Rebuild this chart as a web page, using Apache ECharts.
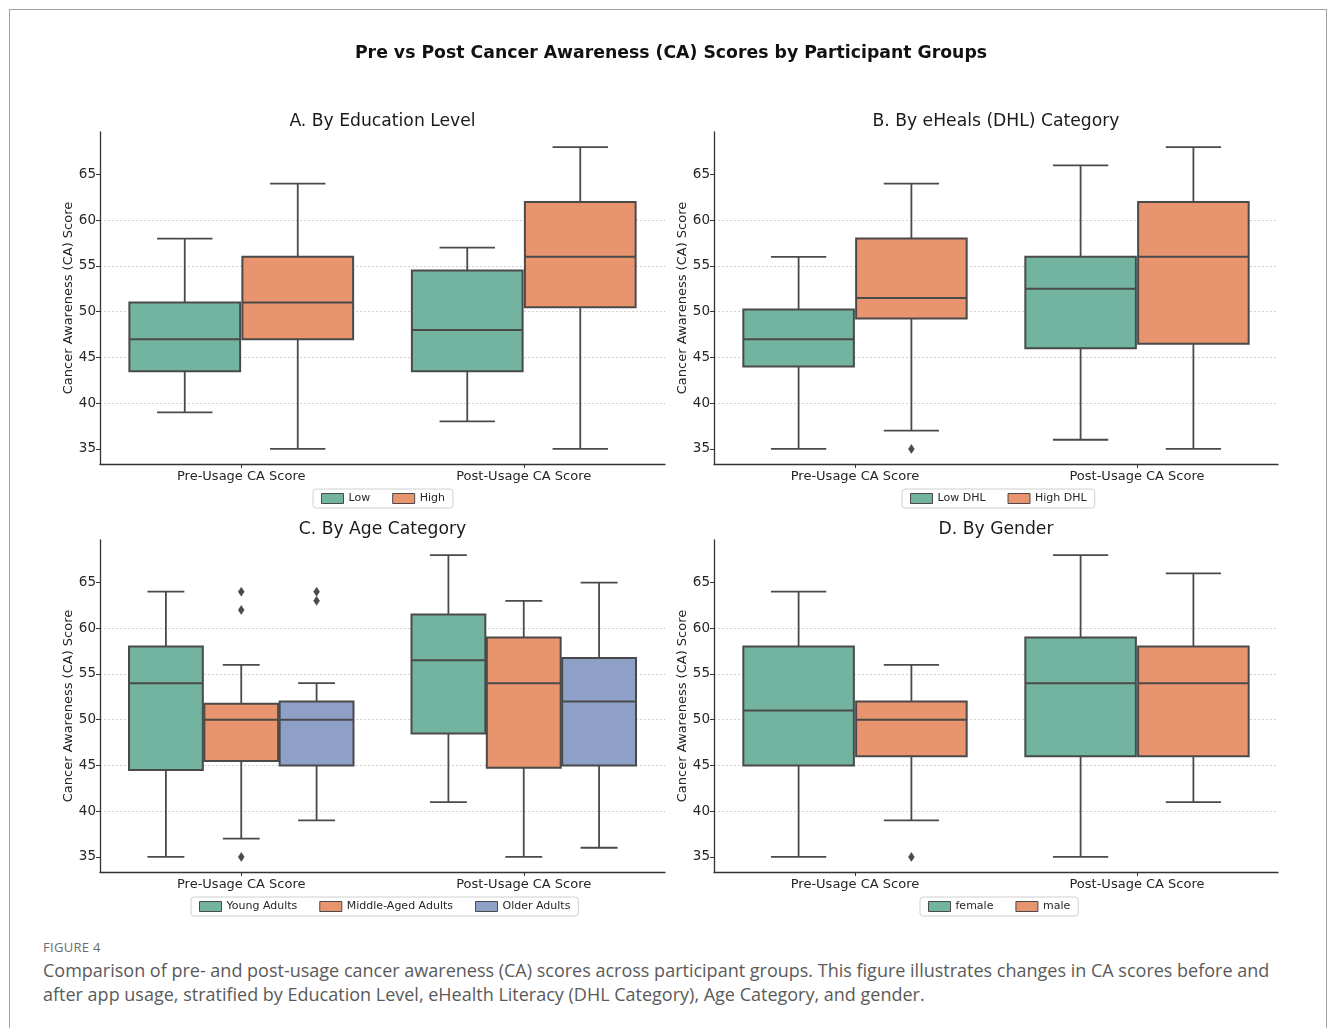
<!DOCTYPE html>
<html>
<head>
<meta charset="utf-8">
<title>Pre vs Post Cancer Awareness (CA) Scores by Participant Groups</title>
<script src="https://cdn.jsdelivr.net/npm/echarts@6.0.0/dist/echarts.min.js"></script>
<style>
  html, body { margin: 0; padding: 0; background: #fff; }
  body { width: 1334px; height: 1028px; position: relative; overflow: hidden; }
  .frame { position: absolute; left: 9px; top: 9px; width: 1316px; height: 1040px; border: 1.5px solid #a3a3a3; }
  #chart { position: absolute; left: 0; top: 0; width: 1334px; height: 925px; }
  .fig-label { position: absolute; left: 43px; top: 938px; font: 13px 'Open Sans', sans-serif; color: #6b6b6b; letter-spacing: 0.3px; }
  .caption { position: absolute; left: 43px; top: 958px; width: 1270px; font: 18px/24px 'Open Sans', sans-serif; color: #5a5a5a; }
</style>
</head>
<body>
<div class="frame"></div>
<div id="chart"></div>
<div class="fig-label">FIGURE 4</div>
<div class="caption">Comparison of pre- and post-usage cancer awareness (CA) scores across participant groups. This figure illustrates changes in CA scores before and<br>after app usage, stratified by Education Level, eHealth Literacy (DHL Category), Age Category, and gender.</div>
<script>
// x categories
const categories = ['Pre-Usage CA Score', 'Post-Usage CA Score'];
const yTicks = [35, 40, 45, 50, 55, 60, 65];

// box stats per group: [min, Q1, median, Q3, max] for Pre, then Post
const eduLow = [[39, 43.5, 47, 51, 58], [38, 43.5, 48, 54.5, 57]];
const eduHigh = [[35, 47, 51, 56, 64], [35, 50.5, 56, 62, 68]];

const dhlLow = [[35, 44, 47, 50.25, 56], [36, 46, 52.5, 56, 66]];
const dhlHigh = [[37, 49.25, 51.5, 58, 64], [35, 46.5, 56, 62, 68]];

const ageYoung = [[35, 44.5, 54, 58, 64], [41, 48.5, 56.5, 61.5, 68]];
const ageMiddle = [[37, 45.5, 50, 51.75, 56], [35, 44.75, 54, 59, 63]];
const ageOlder = [[39, 45, 50, 52, 54], [36, 45, 52, 56.75, 65]];

const genderFemale = [[35, 45, 51, 58, 64], [35, 46, 54, 59, 68]];
const genderMale = [[39, 46, 50, 52, 56], [41, 46, 54, 58, 66]];

// outliers: [category index, value]
const dhlHighOutliers = [[0, 35]];
const ageMiddleOutliers = [[0, 64], [0, 62], [0, 35]];
const ageOlderOutliers = [[0, 64], [0, 63]];
const genderMaleOutliers = [[0, 35]];

const yMin = 33.35;
const yMax = 69.65;

const panels = [
  { title: 'A. By Education Level', names: ['Low', 'High'], boxes: [eduLow, eduHigh], outliers: [[], []] },
  { title: 'B. By eHeals (DHL) Category', names: ['Low DHL', 'High DHL'], boxes: [dhlLow, dhlHigh], outliers: [[], dhlHighOutliers] },
  { title: 'C. By Age Category', names: ['Young Adults', 'Middle-Aged Adults', 'Older Adults'], boxes: [ageYoung, ageMiddle, ageOlder], outliers: [[], ageMiddleOutliers, ageOlderOutliers] },
  { title: 'D. By Gender', names: ['female', 'male'], boxes: [genderFemale, genderMale], outliers: [[], genderMaleOutliers] }
];

// layout of the four subplots
const layout = [
  { left: 100, top: 132, width: 565, legendLeft: 313 },
  { left: 714, top: 132, width: 564, legendLeft: 902 },
  { left: 100, top: 540, width: 565, legendLeft: 191 },
  { left: 714, top: 540, width: 564, legendLeft: 920 }
];
const plotHeight = 332;

const font = 'DejaVu Sans';
const edgeColor = '#4a4a4a';
const textColor = '#262626';
const hueColors = ['#72b4a0', '#e8956f', '#8fa0c6'];

// seaborn style: 0.8 of the band shared by the hues, each box 98% of its slot
function hueCenter(api, cat, hue, nHue) {
  const band = api.size([1, 0])[0];
  const slot = band * 0.8 / nHue;
  return { cx: api.coord([cat, yMin])[0] + (hue - (nHue - 1) / 2) * slot, w: slot * 0.98 };
}

function boxRenderer(hue, nHue) {
  return function (params, api) {
    const cat = api.value(0);
    const pos = hueCenter(api, cat, hue, nHue);
    const cx = pos.cx, w = pos.w;
    const y = v => api.coord([cat, v])[1];
    const lo = y(api.value(1)), q1 = y(api.value(2)), med = y(api.value(3)), q3 = y(api.value(4)), hi = y(api.value(5));
    const ls = { stroke: edgeColor, lineWidth: 1.8 };
    return {
      type: 'group',
      children: [
        { type: 'line', shape: { x1: cx, y1: q3, x2: cx, y2: hi }, style: ls },
        { type: 'line', shape: { x1: cx, y1: q1, x2: cx, y2: lo }, style: ls },
        { type: 'line', shape: { x1: cx - w / 4, y1: hi, x2: cx + w / 4, y2: hi }, style: ls },
        { type: 'line', shape: { x1: cx - w / 4, y1: lo, x2: cx + w / 4, y2: lo }, style: ls },
        { type: 'rect', shape: { x: cx - w / 2, y: q3, width: w, height: q1 - q3 }, style: { fill: api.visual('color'), stroke: edgeColor, lineWidth: 2 } },
        { type: 'line', shape: { x1: cx - w / 2, y1: med, x2: cx + w / 2, y2: med }, style: { stroke: edgeColor, lineWidth: 2 } }
      ]
    };
  };
}

function outlierRenderer(hue, nHue) {
  return function (params, api) {
    const cat = api.value(0);
    const cx = hueCenter(api, cat, hue, nHue).cx;
    const cy = api.coord([cat, api.value(1)])[1];
    return {
      type: 'polygon',
      shape: { points: [[cx, cy - 4.5], [cx + 3, cy], [cx, cy + 4.5], [cx - 3, cy]] },
      style: { fill: edgeColor, stroke: edgeColor, lineWidth: 0.5 }
    };
  };
}

const option = {
  animation: false,
  backgroundColor: 'transparent',
  title: [{
    text: 'Pre vs Post Cancer Awareness (CA) Scores by Participant Groups',
    left: 671, top: 45, textAlign: 'center', padding: 0,
    textStyle: { fontFamily: font, fontSize: 17.3, fontWeight: 'bold', color: '#111' }
  }],
  grid: [], xAxis: [], yAxis: [], legend: [], series: []
};

panels.forEach((p, i) => {
  const l = layout[i];
  const n = p.names.length;
  option.title.push({
    text: p.title, left: l.left + l.width / 2, top: l.top - 19, textAlign: 'center', padding: 0,
    textStyle: { fontFamily: font, fontSize: 17.2, fontWeight: 'normal', color: '#1a1a1a' }
  });
  option.grid.push({ left: l.left, top: l.top, width: l.width, height: plotHeight, containLabel: false, outerBoundsMode: 'none' });
  option.xAxis.push({
    gridIndex: i, type: 'category', data: categories, boundaryGap: true,
    axisLine: { show: true, lineStyle: { color: '#333', width: 1.3 } },
    axisTick: { show: true, alignWithLabel: true, length: 4, lineStyle: { color: '#333', width: 1 } },
    axisLabel: { margin: 6, fontFamily: font, fontSize: 13, color: textColor },
    splitLine: { show: false }
  });
  option.yAxis.push({
    gridIndex: i, type: 'value', min: yMin, max: yMax, splitNumber: 8,
    name: 'Cancer Awareness (CA) Score', nameLocation: 'middle', nameGap: 24, nameRotate: 90,
    nameTextStyle: { fontFamily: font, fontSize: 13, color: textColor },
    axisLine: { show: true, lineStyle: { color: '#333', width: 1.3 } },
    axisTick: { show: true, length: 4, customValues: yTicks, lineStyle: { color: '#333', width: 1 } },
    axisLabel: {
      margin: 4, fontFamily: font, fontSize: 13.5, color: textColor, customValues: yTicks,
      formatter: v => (Math.abs(v % 5) < 1e-6 ? String(v) : '')
    },
    splitLine: { show: true, showMinLine: false, showMaxLine: false, lineStyle: { type: [2, 2], color: '#c4c4c4', width: 0.8 } }
  });
  option.legend.push({
    data: p.names, left: l.legendLeft, top: l.top + 357, orient: 'horizontal',
    icon: 'rect', itemWidth: 22, itemHeight: 10, itemGap: 22, padding: [4, 8],
    backgroundColor: '#fff', borderColor: '#d0d0d0', borderWidth: 1, borderRadius: 3,
    itemStyle: { borderColor: edgeColor, borderWidth: 1 },
    textStyle: { fontFamily: font, fontSize: 11, color: textColor },
    selectedMode: false
  });
  p.names.forEach((name, h) => {
    option.series.push({
      type: 'custom', name: name, xAxisIndex: i, yAxisIndex: i,
      itemStyle: { color: hueColors[h] },
      renderItem: boxRenderer(h, n),
      encode: { x: 0, y: [1, 2, 3, 4, 5] },
      data: p.boxes[h].map((d, k) => [k].concat(d)),
      z: 2
    });
    if (p.outliers[h].length) {
      option.series.push({
        type: 'custom', name: name + ' outliers', xAxisIndex: i, yAxisIndex: i,
        itemStyle: { color: edgeColor },
        renderItem: outlierRenderer(h, n),
        encode: { x: 0, y: 1 },
        data: p.outliers[h],
        z: 3
      });
    }
  });
});

const chart = echarts.init(document.getElementById('chart'), null, { renderer: 'canvas' });
chart.setOption(option);
</script>
</body>
</html>
